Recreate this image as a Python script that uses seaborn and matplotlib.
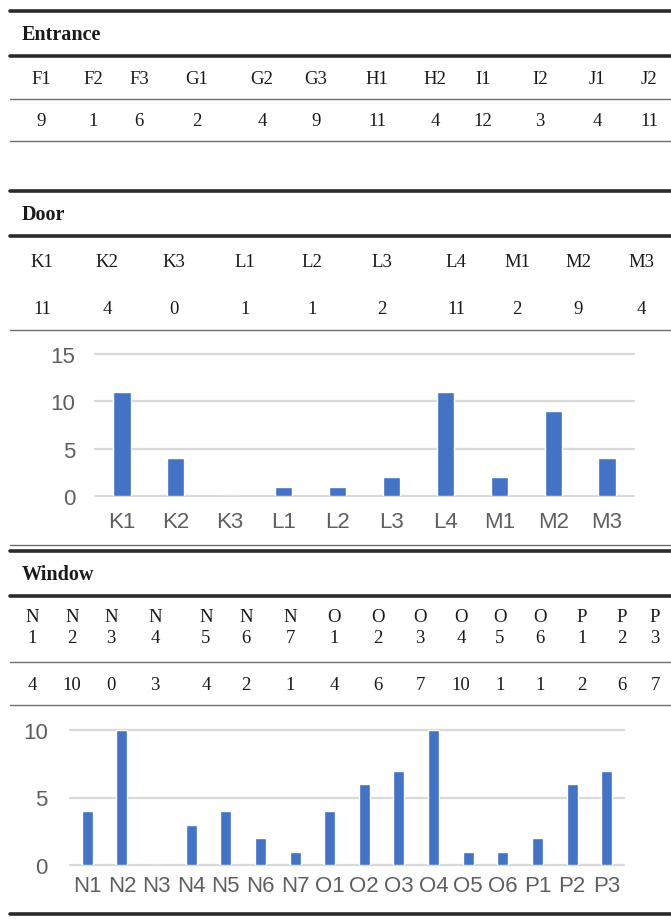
import matplotlib
matplotlib.use("Agg")
import matplotlib.pyplot as plt
import seaborn as sns
from matplotlib.lines import Line2D

# ---- data ----
entrance_labels = ["F1", "F2", "F3", "G1", "G2", "G3", "H1", "H2", "I1", "I2", "J1", "J2"]
entrance_values = [9, 1, 6, 2, 4, 9, 11, 4, 12, 3, 4, 11]

door_labels = ["K1", "K2", "K3", "L1", "L2", "L3", "L4", "M1", "M2", "M3"]
door_values = [11, 4, 0, 1, 1, 2, 11, 2, 9, 4]

window_labels = ["N1", "N2", "N3", "N4", "N5", "N6", "N7", "O1", "O2", "O3",
                 "O4", "O5", "O6", "P1", "P2", "P3"]
window_values = [4, 10, 0, 3, 4, 2, 1, 4, 6, 7, 10, 1, 1, 2, 6, 7]

door_yticks = [0, 5, 10, 15]
window_yticks = [0, 5, 10]

# ---- layout (pixels) ----
W, H = 671, 920
entrance_cols = [41, 93, 139, 197, 262, 316, 377, 435, 483, 540, 597, 649]
door_cols = [42, 107, 174, 245, 312, 382, 456, 517, 578, 641]
window_cols = [32, 72, 111, 155, 206, 246, 290, 334, 378, 420, 461, 500, 540, 582, 622, 655]

BAR = "#4472C4"
GRID = "#D9D9D9"
TICK = "#5f5f5f"
SERIF = ["Liberation Serif", "DejaVu Serif"]
SANS = ["Liberation Sans", "DejaVu Sans"]

sns.set_theme(style="white")
fig = plt.figure(figsize=(W / 100, H / 100), dpi=100)
fig.patch.set_facecolor("white")


def fy(y):
    return 1 - y / H


def fx(x):
    return x / W


def hline(y, thick=False):
    lw = 2.6 if thick else 1.0
    color = "#2b2b2b" if thick else "#6e6e6e"
    fig.add_artist(Line2D([fx(10), 1.0], [fy(y), fy(y)], lw=lw, color=color,
                          transform=fig.transFigure))


def section_title(y, text):
    fig.text(fx(22), fy(y), text, fontsize=14.5, fontweight="bold",
             family=SERIF, va="center", ha="left", color="#1a1a1a")


def row(y, xs, items, linespacing=1.2):
    for x, t in zip(xs, items):
        fig.text(fx(x), fy(y), str(t), fontsize=13.5, family=SERIF,
                 va="center", ha="center", color="#1a1a1a",
                 linespacing=linespacing)


def bar_axes(x0, x1, y_top, y_bottom):
    return fig.add_axes([fx(x0), fy(y_bottom), fx(x1) - fx(x0),
                         (y_bottom - y_top) / H])


def style_bars(ax, ticks, ymax, ypad, xpad):
    ax.set_ylim(0, ymax)
    ax.set_yticks(ticks)
    ax.grid(axis="y", color=GRID, lw=1.6)
    ax.grid(axis="x", visible=False)
    ax.set_axisbelow(True)
    for s in ax.spines.values():
        s.set_visible(False)
    for gl in ax.get_ygridlines():
        gl.set_clip_on(False)
    ax.tick_params(axis="y", length=0, pad=ypad, labelsize=16, labelcolor=TICK)
    ax.tick_params(axis="x", length=0, pad=xpad, labelsize=16, labelcolor=TICK)
    for lab in ax.get_xticklabels() + ax.get_yticklabels():
        lab.set_family(SANS)
    ax.set_xlabel("")
    ax.set_ylabel("")
    ax.patch.set_alpha(0)


# ---- Entrance table ----
hline(12, thick=True)
section_title(35, "Entrance")
hline(57, thick=True)
row(80, entrance_cols, entrance_labels)
hline(100)
row(122, entrance_cols, entrance_values)
hline(142)

# ---- Door table and chart ----
hline(192, thick=True)
section_title(215, "Door")
hline(237, thick=True)
row(263, door_cols, door_labels)
row(309, door_cols, door_values)
hline(331)

ax1 = bar_axes(95, 634, 355, 497)
sns.barplot(x=door_labels, y=door_values, ax=ax1, color=BAR, saturation=1,
            width=0.32, order=door_labels)
ax1.set_xlim(-0.5, len(door_labels) - 0.5)
style_bars(ax1, door_yticks, 15, 14, 11)
hline(546)

# ---- Window table and chart ----
hline(552, thick=True)
section_title(575, "Window")
hline(597, thick=True)
row(628, window_cols, [f"{s[0]}\n{s[1:]}" for s in window_labels], linespacing=1.35)
hline(663)
row(686, window_cols, window_values)
hline(706)

ax2 = bar_axes(70, 624, 731, 866)
sns.barplot(x=window_labels, y=window_values, ax=ax2, color=BAR, saturation=1,
            width=0.32, order=window_labels)
ax2.set_xlim(-0.5, len(window_labels) - 0.5)
style_bars(ax2, window_yticks, 10, 16, 7)
hline(915, thick=True)

fig.savefig("out.png", dpi=100, facecolor="white")
